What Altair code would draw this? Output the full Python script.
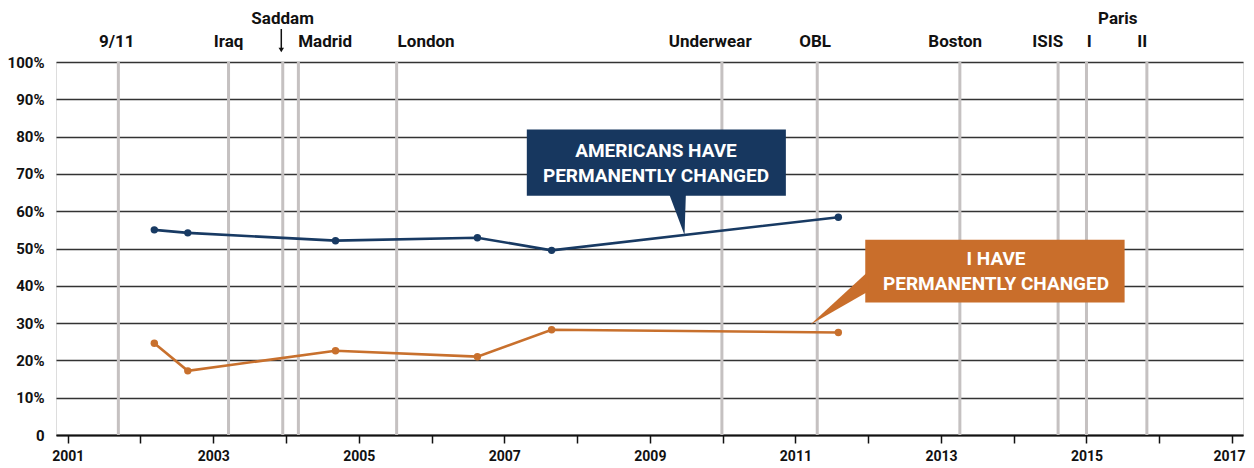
import altair as alt
import pandas as pd

# ---------------- data ----------------
survey_years = [2002.19, 2002.65, 2004.68, 2006.63, 2007.65, 2011.59]
americans_changed = [55.0, 54.2, 52.1, 52.9, 49.5, 58.4]
i_changed = [24.6, 17.2, 22.6, 21.0, 28.2, 27.5]

event_years = [2001.696, 2003.21, 2003.955, 2004.17, 2005.52, 2009.99,
               2011.30, 2013.26, 2014.61, 2015.0, 2015.83]

label_text = ["9/11", "Iraq", "Madrid", "London", "Underwear", "OBL",
              "Boston", "ISIS", "I", "II"]
label_x = [2001.674, 2003.21, 2004.537, 2005.925, 2009.829, 2011.272,
           2013.196, 2014.468, 2015.039, 2015.767]
upper_text = ["Saddam", "Paris"]
upper_x = [2003.953, 2015.430]
arrow_x = [2003.935]

year_ticks = list(range(2001, 2018))
pct_ticks = list(range(0, 101, 10))

blue_lines = ["AMERICANS HAVE", "PERMANENTLY CHANGED"]
orange_lines = ["I HAVE", "PERMANENTLY CHANGED"]

# ---------------- styles ----------------
BLUE = "#183a63"
BLUE_BOX = "#17375f"
ORANGE = "#c8702d"
ORANGE_BOX = "#c96e2b"
GRAY = "#c5c1c1"
FONT = "Roboto"

xscale = alt.Scale(domain=[2000.839, 2017.151], nice=False, zero=False)
yscale = alt.Scale(domain=[0, 100], nice=False, zero=False)

x_axis = alt.Axis(values=year_ticks, format="d",
                  labelExpr="datum.value % 2 == 1 ? datum.label : ''",
                  title=None, grid=False, domainColor="#111", domainWidth=2,
                  tickColor="#111", tickWidth=1.5, tickSize=8,
                  labelFontSize=14, labelFontWeight="bold", labelColor="#111",
                  labelPadding=6, labelFont=FONT, labelOverlap=False,
                  labelOffset={"condition": {"test": "datum.value == 2017", "value": -3},
                               "value": 0})
y_axis = alt.Axis(values=pct_ticks,
                  labelExpr="datum.value == 0 ? '0' : datum.value + '%'",
                  title=None, grid=True, gridColor="#333333", gridWidth=1.4,
                  domain=False, ticks=False, labelFontSize=15,
                  labelFontWeight="bold", labelColor="#111", labelPadding=12,
                  labelFont=FONT)


def X(field):
    return alt.X(field, scale=xscale, axis=x_axis, title=None)


def Y(field):
    return alt.Y(field, scale=yscale, axis=y_axis, title=None)


series_df = pd.DataFrame({
    "x": survey_years * 2,
    "y": americans_changed + i_changed,
    "series": ["americans"] * len(survey_years) + ["i"] * len(survey_years),
})
color = alt.Color("series:N",
                  scale=alt.Scale(domain=["americans", "i"], range=[BLUE, ORANGE]),
                  legend=None)

# event rules
ev_df = pd.DataFrame({"x": event_years})
rules = alt.Chart(ev_df).mark_rule(color=GRAY, strokeWidth=3).encode(
    x=X("x:Q"), y=Y("y0:Q"), y2="y1:Q",
).transform_calculate(y0="0", y1="100")

# event labels
lab_df = pd.DataFrame({"x": label_x, "t": label_text})
labels = alt.Chart(lab_df).mark_text(
    font=FONT, fontSize=17, fontWeight="bold", color="#111", baseline="middle"
).encode(x=X("x:Q"), y=alt.value(-20), text="t:N")

up_df = pd.DataFrame({"x": upper_x, "t": upper_text})
upper = alt.Chart(up_df).mark_text(
    font=FONT, fontSize=17, fontWeight="bold", color="#111", baseline="middle"
).encode(x=X("x:Q"), y=alt.value(-43), text="t:N")

arr_df = pd.DataFrame({"x": arrow_x})
arrow_line = alt.Chart(arr_df).mark_rule(color="#111", strokeWidth=1.5).encode(
    x=X("x:Q"), y=alt.value(-33), y2=alt.value(-14))
arrow_head = alt.Chart(arr_df).mark_point(
    shape="triangle-down", filled=True, color="#111", size=30, opacity=1
).encode(x=X("x:Q"), y=alt.value(-12))

# callout boxes
box_df = pd.DataFrame({
    "x": [2007.309, 2011.96], "x2": [2010.869, 2015.524],
    "y": [81.9, 52.35], "y2": [64.16, 35.52], "series": ["americans", "i"],
})
boxes = alt.Chart(box_df).mark_rect().encode(
    x=X("x:Q"), x2="x2:Q", y=Y("y:Q"), y2="y2:Q",
    color=alt.Color("series:N",
                    scale=alt.Scale(domain=["americans", "i"], range=[BLUE_BOX, ORANGE_BOX]),
                    legend=None),
)

blue_ptr_df = pd.DataFrame({"x": [2009.265, 2009.476, 2009.495],
                            "y": [64.6, 64.6, 64.6], "y2": [64.6, 53.6, 64.6]})
blue_ptr = alt.Chart(blue_ptr_df).mark_area(color=BLUE_BOX, orient="vertical").encode(
    x=X("x:Q"), y=Y("y:Q"), y2="y2:Q")

orange_ptr_df = pd.DataFrame({"x": [2011.203, 2012.0],
                              "y": [29.53, 43.84], "y2": [29.53, 38.47]})
orange_ptr = alt.Chart(orange_ptr_df).mark_area(color=ORANGE_BOX, orient="vertical").encode(
    x=X("x:Q"), y=Y("y:Q"), y2="y2:Q")

txt_df = pd.DataFrame({
    "x": [2009.084, 2009.084, 2013.757, 2013.757],
    "y": [76.05, 69.45, 47.06, 40.54],
    "t": blue_lines + orange_lines,
})
box_text = alt.Chart(txt_df).mark_text(
    font=FONT, fontSize=19, fontWeight="bold", color="white", baseline="middle"
).encode(x=X("x:Q"), y=Y("y:Q"), text="t:N")

lines = alt.Chart(series_df).mark_line(strokeWidth=2.6).encode(
    x=X("x:Q"), y=Y("y:Q"), color=color)
points = alt.Chart(series_df).mark_circle(size=55, opacity=1).encode(
    x=X("x:Q"), y=Y("y:Q"), color=color)

chart = alt.layer(
    rules, boxes, blue_ptr, orange_ptr, box_text, lines, points,
    labels, upper, arrow_line, arrow_head,
).resolve_scale(color="independent").properties(
    width=1187, height=373,
    padding={"left": 48, "top": 54, "right": 3, "bottom": 28},
    autosize=alt.AutoSizeParams(type="none"),
).configure_view(strokeWidth=0).configure(background="white")

chart.save("out.html", embed_options={"renderer": "svg", "actions": False})
